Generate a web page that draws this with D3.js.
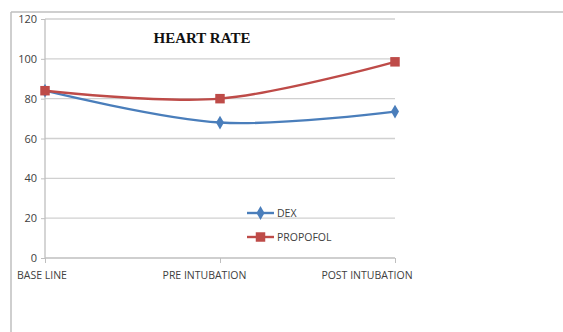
<!DOCTYPE html>
<html><head><meta charset="utf-8">
<script src="https://cdn.jsdelivr.net/npm/d3@7"></script>
<style>html,body{margin:0;padding:0;background:#fff;}svg{display:block;}</style>
</head><body>
<svg id="c" width="563" height="332"></svg>
<script>
const categories = ["BASE LINE", "PRE INTUBATION", "POST INTUBATION"];
const dexValues = [84, 68, 73.5];
const propofolValues = [84, 80, 98.5];
const yTicks = [0, 20, 40, 60, 80, 100, 120];
const seriesNames = ["DEX", "PROPOFOL"];
const title = "HEART RATE";

const svg = d3.select("#c");
const blue = "#4a7ebb", red = "#be4b48";
const font = "'Open Sans', 'Liberation Sans', sans-serif";

// outer frame (left + top)
svg.append("line").attr("x1",11).attr("x2",11).attr("y1",12).attr("y2",332).attr("stroke","#bfbfbf").attr("stroke-width",1.5);
svg.append("line").attr("x1",11).attr("x2",563).attr("y1",12).attr("y2",12).attr("stroke","#bfbfbf").attr("stroke-width",1.5);

const x = d3.scalePoint().domain(categories).range([45, 395]);
const xLab = d3.scalePoint().domain(categories).range([42, 367]);
const y = d3.scaleLinear().domain([0, 120]).range([258, 19]);

// gridlines
svg.append("g").selectAll("line").data(yTicks.filter(d=>d>0)).join("line")
  .attr("x1",45).attr("x2",395).attr("y1",d=>y(d)).attr("y2",d=>y(d))
  .attr("stroke","#d0d0d0").attr("stroke-width",1.3);

// y axis
const yAxis = d3.axisLeft(y).tickValues(yTicks).tickSize(4).tickPadding(4);
const gy = svg.append("g").attr("transform","translate(45,0)").call(yAxis);
gy.select(".domain").attr("stroke","#bfbfbf").attr("stroke-width",1.3).attr("d","M0,19V258");
gy.selectAll(".tick line").attr("stroke","#bfbfbf");
gy.selectAll("text").attr("font-family",font).attr("font-size","11px").attr("fill","#404040");

// x axis
const xAxis = d3.axisBottom(x).tickSize(5).tickFormat("");
const gx = svg.append("g").attr("transform","translate(0,258)").call(xAxis);
gx.select(".domain").attr("stroke","#bfbfbf").attr("stroke-width",1.3).attr("d","M45,0H395");
gx.selectAll(".tick line").attr("stroke","#bfbfbf");
svg.append("g").selectAll("text").data(categories).join("text")
  .attr("x",d=>xLab(d)).attr("y",279).attr("text-anchor","middle")
  .attr("font-family",font).attr("font-size","10.5px").attr("fill","#404040").text(d=>d);

// title
svg.append("text").attr("x",202).attr("y",43).attr("text-anchor","middle")
  .attr("font-family","'Liberation Serif','Times New Roman',serif").attr("font-weight","bold")
  .attr("font-size","15px").attr("fill","#111").text(title);

const line = d3.line().x((d,i)=>x(categories[i])).y(d=>y(d)).curve(d3.curveCatmullRom.alpha(0));

const series = [
  {name: seriesNames[0], values: dexValues, color: blue, shape: d3.symbolDiamond, size: 55},
  {name: seriesNames[1], values: propofolValues, color: red, shape: d3.symbolSquare, size: 90}
];
series.forEach(s=>{
  svg.append("path").datum(s.values).attr("d",line).attr("fill","none")
    .attr("stroke",s.color).attr("stroke-width",2.4);
});
series.forEach(s=>{
  svg.append("g").selectAll("path").data(s.values).join("path")
    .attr("transform",(d,i)=>`translate(${x(categories[i])},${y(d)})`)
    .attr("d",d3.symbol(s.shape,s.size)).attr("fill",s.color);
});

// legend
series.forEach((s,i)=>{
  const ly = 213 + i*24;
  svg.append("line").attr("x1",247).attr("x2",274).attr("y1",ly).attr("y2",ly).attr("stroke",s.color).attr("stroke-width",2.4);
  svg.append("path").attr("transform",`translate(260.5,${ly})`).attr("d",d3.symbol(s.shape,s.size)).attr("fill",s.color);
  svg.append("text").attr("x",277).attr("y",ly+4).attr("font-family",font).attr("font-size","10.5px").attr("fill","#404040").text(s.name);
});
</script>
</body></html>
